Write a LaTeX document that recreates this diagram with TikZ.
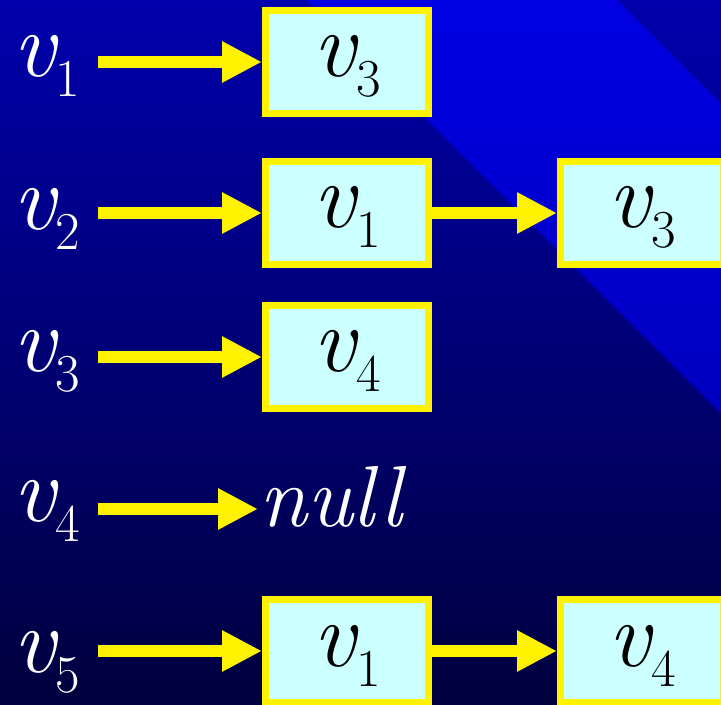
\documentclass[tikz,border=0pt]{standalone}
\usepackage{fontspec}
\usetikzlibrary{arrows.meta,positioning,calc}

\definecolor{bgtop}{RGB}{0,0,172}
\definecolor{bgbot}{RGB}{0,0,62}
\definecolor{bandtop}{RGB}{0,0,226}
\definecolor{bandbot}{RGB}{0,0,192}
\definecolor{cellfill}{RGB}{204,255,255}

\newcommand{\vsub}[1]{\textit{v}\kern-2pt\raisebox{-15pt}{\fontsize{40}{40}\selectfont #1}}

\tikzset{
  lbl/.style={text=white, inner sep=0pt, outer sep=0pt, text width=63.75pt, align=left,
    anchor=base west, font=\fontsize{70}{72}\selectfont},
  cell/.style={draw=yellow, fill=cellfill, line width=5.25pt, minimum width=122.25pt,
    minimum height=77.25pt, inner sep=0pt, text height=37.5pt, text depth=15pt,
    font=\fontsize{70}{72}\selectfont},
  arr/.style={draw=yellow, line width=9pt, -{Triangle[length=30pt,width=29pt]}}
}

\begin{document}
\begin{tikzpicture}[x=0.75pt, y=-0.75pt]
  \useasboundingbox (0,0) rectangle (721,705);
  \clip (0,0) rectangle (721,705);

  % background
  \shade[top color=bgtop, bottom color=bgbot] (0,0) rectangle (721,705);
  \shade[top color=bandtop, bottom color=bandbot] (307,0) -- (617,0) -- (721,104) -- (721,414) -- cycle;

  % vertex labels
  \node[lbl] (l1) at (13,77) {\vsub{1}};
  \node[lbl] (l2) at (13,230) {\vsub{2}};
  \node[lbl] (l3) at (13,372) {\vsub{3}};
  \node[lbl] (l4) at (13,522) {\vsub{4}};
  \node[lbl] (l5) at (13,672) {\vsub{5}};

  % adjacency cells
  \node[cell] (b1) at (347,62) {\vsub{3}};
  \node[cell] (b2) at (347,213) {\vsub{1}};
  \node[cell] (c2) at (642,213) {\vsub{3}};
  \node[cell] (b3) at (347,357) {\vsub{4}};
  \node[text=white, inner sep=1pt, anchor=west, font=\fontsize{65}{67}\selectfont\itshape]
    (n4) at (258,497) {null};
  \node[cell] (b5) at (347,651) {\vsub{1}};
  \node[cell] (c5) at (642,651) {\vsub{4}};

  % links
  \draw[arr] (l1.east |- b1.west) -- (b1.west);
  \draw[arr] (l2.east |- b2.west) -- (b2.west);
  \draw[arr] (b2.east) -- (c2.west);
  \draw[arr] (l3.east |- b3.west) -- (b3.west);
  \draw[arr] (l4.east |- 0,509) coordinate (s4) -- (s4 -| n4.west);
  \draw[arr] (l5.east |- b5.west) -- (b5.west);
  \draw[arr] (b5.east) -- (c5.west);
\end{tikzpicture}
\end{document}
